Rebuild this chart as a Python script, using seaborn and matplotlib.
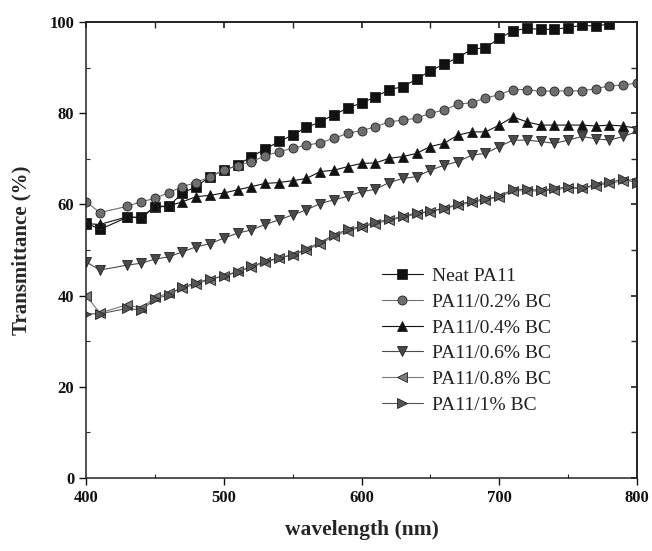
import numpy as np
import pandas as pd
import matplotlib
matplotlib.use("Agg")
import matplotlib.pyplot as plt
from matplotlib.ticker import MultipleLocator
import seaborn as sns

# Wavelengths (nm) of the measured points; 420 nm was not recorded
wavelength = [400, 410, 430, 440, 450, 460, 470, 480, 490, 500, 510, 520, 530, 540,
              550, 560, 570, 580, 590, 600, 610, 620, 630, 640, 650, 660, 670, 680,
              690, 700, 710, 720, 730, 740, 750, 760, 770, 780, 790, 800]

neat_pa11 = [56.0, 54.5, 57.2, 57.2, 59.4, 59.6, 62.5, 63.9, 66.1, 67.5, 68.6, 70.5,
             72.1, 73.8, 75.2, 76.9, 78.1, 79.7, 81.1, 82.3, 83.5, 85.2, 85.8, 87.5,
             89.3, 90.8, 92.2, 94.0, 94.4, 96.4, 98.1, 98.6, 98.4, 98.4, 98.8, 99.3,
             99.1, 99.6]
bc_02 = [60.6, 58.2, 59.6, 60.6, 61.3, 62.6, 63.9, 64.8, 66.1, 67.5, 68.5, 69.4,
         70.6, 71.6, 72.3, 73.0, 73.5, 74.5, 75.6, 76.2, 77.0, 78.1, 78.5, 78.9,
         80.0, 80.7, 82.0, 82.3, 83.3, 84.1, 85.2, 85.2, 84.8, 84.9, 84.9, 84.9,
         85.4, 86.0, 86.2, 86.6]
bc_04 = [55.8, 55.6, 57.3, 57.0, 59.6, 59.6, 60.6, 61.7, 62.0, 62.5, 63.2, 63.9,
         64.6, 64.8, 65.2, 65.7, 67.2, 67.5, 68.3, 69.0, 69.1, 70.1, 70.5, 71.2,
         72.7, 73.4, 75.2, 75.9, 75.9, 77.4, 79.2, 78.1, 77.4, 77.4, 77.4, 77.4,
         77.2, 77.4, 77.2, 76.7]
bc_06 = [47.4, 45.6, 46.7, 47.1, 48.0, 48.5, 49.6, 50.7, 51.4, 52.6, 53.7, 54.4,
         55.6, 56.6, 57.7, 58.8, 60.2, 61.0, 61.8, 62.8, 63.3, 64.8, 65.7, 66.1,
         67.5, 68.6, 69.4, 70.8, 71.2, 72.7, 74.1, 74.1, 73.8, 73.4, 74.1, 74.9,
         74.4, 74.1, 74.9, 76.0]
bc_08 = [40.0, 36.2, 38.0, 37.2, 39.6, 40.5, 41.6, 42.6, 43.5, 44.4, 45.3, 46.2,
         47.3, 48.2, 49.0, 50.0, 51.4, 53.0, 54.2, 55.0, 55.8, 56.5, 57.2, 57.9,
         58.4, 59.1, 59.8, 60.5, 61.0, 61.6, 63.0, 63.0, 62.9, 63.2, 63.6, 63.5,
         64.1, 64.6, 65.2, 65.6]
bc_10 = [36.0, 36.0, 37.2, 36.8, 39.2, 40.2, 41.9, 42.8, 43.7, 44.2, 45.2, 46.4,
         47.5, 48.3, 48.9, 50.2, 51.7, 53.3, 54.5, 55.2, 56.1, 56.7, 57.4, 58.1,
         58.5, 59.2, 60.0, 60.7, 61.2, 61.8, 63.3, 63.3, 63.1, 63.5, 63.8, 63.5,
         64.4, 64.9, 65.5, 64.8]

series_names = ["Neat PA11", "PA11/0.2% BC", "PA11/0.4% BC",
                "PA11/0.6% BC", "PA11/0.8% BC", "PA11/1% BC"]
series_values = [neat_pa11, bc_02, bc_04, bc_06, bc_08, bc_10]
series_markers = ["s", "o", "^", "v", "<", ">"]
series_colors = ["#111111", "#6e6e6e", "#111111", "#4a4a4a", "#7a7a7a", "#555555"]

frames = []
for name, vals in zip(series_names, series_values):
    frames.append(pd.DataFrame({"wavelength": wavelength[:len(vals)],
                                "T": vals, "sample": name}))
df = pd.concat(frames, ignore_index=True)

sns.set_theme(style="ticks")
plt.rcParams["font.family"] = ["Liberation Serif", "DejaVu Serif"]

fig = plt.figure(figsize=(6.52, 5.51), dpi=100)
ax = fig.add_axes([0.132, 0.1325, 0.845, 0.8275])

sns.lineplot(data=df, x="wavelength", y="T", hue="sample", style="sample",
             hue_order=series_names, style_order=series_names,
             palette=dict(zip(series_names, series_colors)),
             markers=dict(zip(series_names, series_markers)),
             dashes=False, markersize=6.5, markeredgewidth=0.6,
             markeredgecolor="#222222", linewidth=0.8, ax=ax, legend=True)

ax.set_xlim(400, 800)
ax.set_ylim(0, 100)
ax.xaxis.set_major_locator(MultipleLocator(100))
ax.xaxis.set_minor_locator(MultipleLocator(50))
ax.yaxis.set_major_locator(MultipleLocator(20))
ax.yaxis.set_minor_locator(MultipleLocator(10))
ax.tick_params(which="major", direction="out", length=5, width=1.0,
               labelsize=12, colors="#111111")
ax.tick_params(which="minor", direction="in", length=3, width=0.8)
for lab in ax.get_xticklabels() + ax.get_yticklabels():
    lab.set_fontweight("bold")

for sp in ax.spines.values():
    sp.set_linewidth(1.1)
    sp.set_color("#222222")

# right/top spines with inward ticks
ax2 = ax.secondary_yaxis("right")
ax2.yaxis.set_major_locator(MultipleLocator(20))
ax2.yaxis.set_minor_locator(MultipleLocator(10))
ax2.tick_params(which="both", direction="in", length=4, labelright=False)
ax3 = ax.secondary_xaxis("top")
ax3.xaxis.set_major_locator(MultipleLocator(100))
ax3.xaxis.set_minor_locator(MultipleLocator(50))
ax3.tick_params(which="both", direction="in", length=4, labeltop=False)

ax.set_xlabel("wavelength (nm)", fontsize=15.5, fontweight="bold", labelpad=10)
ax.set_ylabel("Transmittance (%)", fontsize=15, fontweight="bold", labelpad=13)

leg = ax.legend(loc="upper left", bbox_to_anchor=(0.537, 0.462), frameon=False,
                fontsize=14, handlelength=2.1, handletextpad=0.45,
                labelspacing=0.42, borderaxespad=0, borderpad=0)
for h in leg.legend_handles:
    h.set_linewidth(0.8)
for t in leg.get_texts():
    t.set_color("#222222")

fig.savefig("out.png", dpi=100)
